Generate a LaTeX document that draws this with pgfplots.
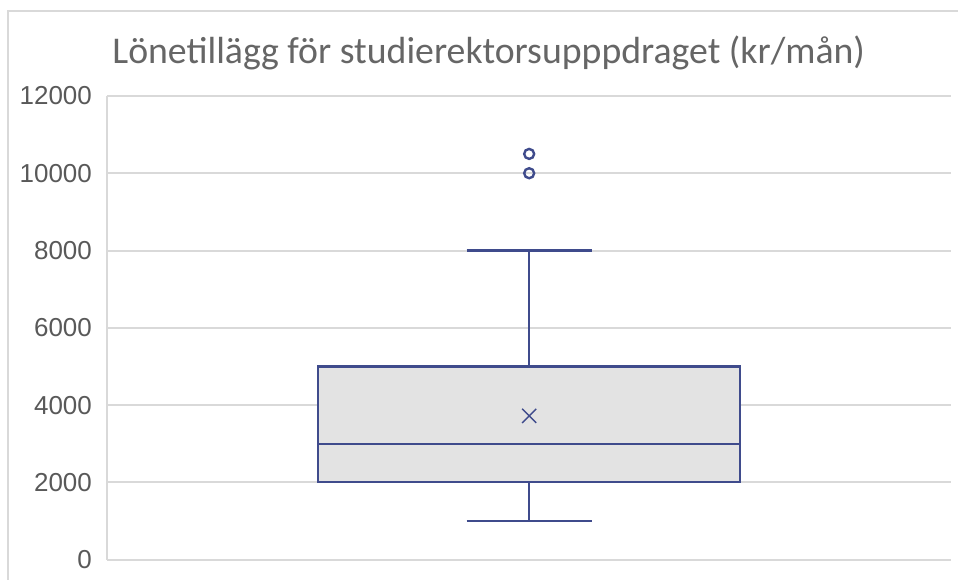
\documentclass[border=0pt]{standalone}
\usepackage{fontspec}
\setmainfont{Liberation Sans}
\newfontfamily\titlefont{Carlito}
\usepackage{pgfplots}
\pgfplotsset{compat=1.18}
\definecolor{boxcol}{HTML}{3F4B8C}
\definecolor{boxfill}{HTML}{E3E3E3}
\definecolor{gridgray}{HTML}{D9D9D9}
\definecolor{txtgray}{HTML}{595959}
\definecolor{titlegray}{HTML}{666666}
\begin{document}
\begin{tikzpicture}
\fill[white] (0pt,0pt) rectangle (479.5pt,290pt);
\draw[gridgray, line width=0.6pt] (4pt,0pt) -- (4pt,284.5pt) -- (479.5pt,284.5pt);
\node[anchor=base, text=titlegray, font=\titlefont\fontsize{18.9pt}{22pt}\selectfont] at (244.5pt,258pt) {Lönetillägg för studierektorsupppdraget (kr/mån)};
\begin{axis}[
  at={(53.5pt,10pt)}, anchor=south west,
  scale only axis, width=422.5pt, height=232pt,
  xmin=0, xmax=1, ymin=0, ymax=12000,
  ytick={0,2000,4000,6000,8000,10000,12000},
  xtick=\empty,
  scaled y ticks=false,
  yticklabel style={/pgf/number format/set thousands separator={}, /pgf/number format/assume math mode=true, font=\fontsize{13pt}{15pt}\selectfont, text=txtgray, xshift=-4pt},
  ymajorgrids, grid style={gridgray, line width=1pt},
  axis x line*=bottom, axis y line*=left,
  axis line style={gridgray, line width=1pt},
  major tick style={draw=none},
]
% box (Q1 = 2000, Q3 = 5000)
\addplot[draw=boxcol, fill=boxfill, line width=1.1pt] coordinates {(0.25,2000) (0.75,2000) (0.75,5000) (0.25,5000)} -- cycle;
% median
\addplot[draw=boxcol, line width=1.1pt] coordinates {(0.25,3000) (0.75,3000)};
% whiskers
\addplot[draw=boxcol, line width=1.1pt] coordinates {(0.5,5000) (0.5,8000)};
\addplot[draw=boxcol, line width=1.1pt] coordinates {(0.426,8000) (0.574,8000)};
\addplot[draw=boxcol, line width=1.1pt] coordinates {(0.5,2000) (0.5,1000)};
\addplot[draw=boxcol, line width=1.1pt] coordinates {(0.426,1000) (0.574,1000)};
% outliers
\addplot[only marks, mark=o, boxcol, mark size=2.5pt, mark options={line width=1.2pt}]
  coordinates {(0.5,10000) (0.5,10500)};
% mean
\addplot[only marks, mark=x, boxcol, mark size=5pt, mark options={line width=0.7pt}]
  coordinates {(0.5,3720)};
\end{axis}
\end{tikzpicture}
\end{document}
